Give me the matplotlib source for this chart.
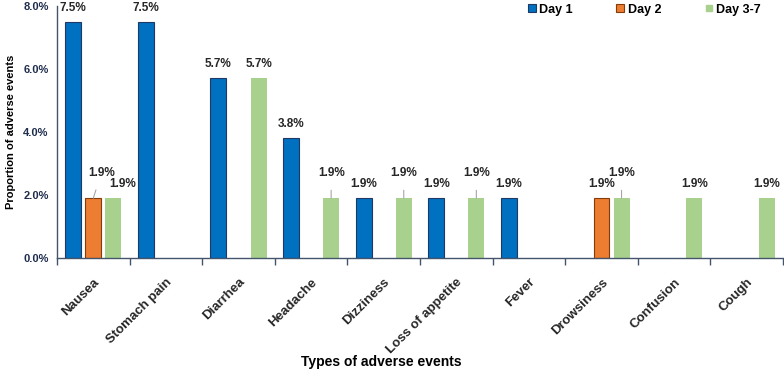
import matplotlib
matplotlib.use("Agg")
import matplotlib.pyplot as plt
from matplotlib.lines import Line2D
from matplotlib import font_manager
import numpy as np

plt.rcParams['font.family'] = ['Liberation Sans', 'DejaVu Sans']

categories = ["Nausea", "Stomach pain", "Diarrhea", "Headache", "Dizziness",
              "Loss of appetite", "Fever", "Drowsiness", "Confusion", "Cough"]
day1 = [7.5, 7.5, 5.7, 3.8, 1.9, 1.9, 1.9, 0, 0, 0]
day2 = [1.9, 0, 0, 0, 0, 0, 0, 1.9, 0, 0]
day37 = [1.9, 0, 5.7, 1.9, 1.9, 1.9, 0, 1.9, 1.9, 1.9]
series_names = ["Day 1", "Day 2", "Day 3-7"]
yticks = [0, 2, 4, 6, 8]

# which labels are raised with a leader line: (series index, category index)
raised = {(1, 0), (2, 3), (2, 4), (2, 5), (2, 7)}

colors = ["#0070C0", "#ED7D31", "#A9D18E"]
edges = ["#1F3864", "#843C0C", "none"]

installed = {f.name for f in font_manager.fontManager.ttflist}
narrow_available = 'Liberation Sans Narrow' in installed
ylab_family = ['Liberation Sans Narrow', 'Liberation Sans'] if narrow_available else ['Liberation Sans']
ylab_size = 9.5 if narrow_available else 8

fig = plt.figure(figsize=(7.84, 3.72), dpi=100)
ax = fig.add_axes([57 / 784, 1 - 258 / 372, 726 / 784, 252 / 372])

x = np.arange(len(categories))
offsets = [-0.276, 0.0, 0.276]
width = 0.22
all_series = [day1, day2, day37]
for si, vals in enumerate(all_series):
    for ci, v in enumerate(vals):
        if v <= 0:
            continue
        xc = x[ci] + offsets[si]
        ax.bar(xc, v, width=width, color=colors[si],
               edgecolor=edges[si], linewidth=0.8 if edges[si] != "none" else 0,
               zorder=2)
        if (si, ci) in raised:
            dx = 8 if (si, ci) == (1, 0) else 0
            ax.annotate(f"{v:.1f}%", xy=(xc, v), xytext=(dx, 25),
                        textcoords='offset pixels', ha='center', va='center',
                        fontsize=8.5, fontweight='bold', color='#262626',
                        arrowprops=dict(arrowstyle='-', color='#A6A6A6', lw=0.8,
                                        shrinkA=6, shrinkB=0))
        else:
            dx = 9 if (si, ci) == (2, 0) else 0
            ax.annotate(f"{v:.1f}%", xy=(xc, v), xytext=(dx, 14),
                        textcoords='offset pixels', ha='center', va='center',
                        fontsize=8.5, fontweight='bold', color='#262626')

ax.set_xlim(-0.5, len(categories) - 0.5)
ax.set_ylim(0, 8)
ax.set_yticks(yticks)
ax.set_yticklabels([f"{t:.1f}%" for t in yticks], fontsize=8, fontweight='bold',
                   color='#1F2D4D')
ax.tick_params(axis='y', length=0, pad=6)

ax.set_xticks(x)
ax.set_xticklabels(categories, rotation=45, ha='right', rotation_mode='anchor',
                   fontsize=9.5, fontweight='bold', color='#262626')
ax.tick_params(axis='x', which='major', length=0, pad=13)
ax.set_xticks(np.arange(-0.5, len(categories) + 0.5, 1), minor=True)
ax.tick_params(axis='x', which='minor', length=5, width=1, color='#44546A')

for s in ['top', 'right']:
    ax.spines[s].set_visible(False)
for s in ['left', 'bottom']:
    ax.spines[s].set_color('#44546A')
    ax.spines[s].set_linewidth(1)

ax.set_ylabel("Proportion of adverse events", fontsize=ylab_size, fontweight='bold',
              color='#000000', family=ylab_family)
ax.yaxis.set_label_coords((16 - 57) / 726, 0.5)
fig.text(381 / 784, 1 - 362 / 372, "Types of adverse events", ha='center', va='center',
         fontsize=10, fontweight='bold', color='#000000')

handles = [
    Line2D([], [], marker='s', linestyle='none', markersize=6,
           markerfacecolor=colors[0], markeredgecolor=edges[0], markeredgewidth=0.8),
    Line2D([], [], marker='s', linestyle='none', markersize=6,
           markerfacecolor=colors[1], markeredgecolor=edges[1], markeredgewidth=0.8),
    Line2D([], [], marker='s', linestyle='none', markersize=4,
           markerfacecolor=colors[2], markeredgecolor=colors[2]),
]
fig.legend(handles, series_names, loc='upper right', bbox_to_anchor=(772 / 784, 1.02),
           ncol=3, frameon=False, prop=dict(size=9, weight='bold'),
           handletextpad=0.2, columnspacing=3.4, handlelength=0.8)

fig.savefig("out.png", dpi=100)
